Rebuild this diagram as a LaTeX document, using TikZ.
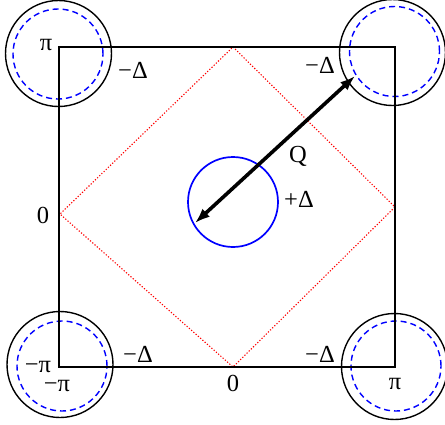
\documentclass[tikz,border=0pt]{standalone}
\usepackage{fontspec}
\setmainfont{Liberation Serif}
\usetikzlibrary{arrows.meta}
\begin{document}
\begin{tikzpicture}[x=1pt,y=-1pt,
  lbl/.style={inner sep=0pt,font=\fontsize{24.5}{24.5}\selectfont},
  outer/.style={circle,draw=black,line width=1.4pt,minimum size=106pt,inner sep=0pt},
  inner/.style={circle,draw=blue,dash pattern=on 6pt off 4pt,line width=1.4pt,minimum size=90pt,inner sep=0pt},
  bz/.style={draw=black,line width=2.8pt},
  dia/.style={draw=red,dash pattern=on 1.2pt off 1.8pt,line width=1.1pt},
  qarrow/.style={{Latex[length=15pt,width=11pt]}-{Latex[length=15pt,width=11pt]},line width=3.6pt}]
\useasboundingbox (0,0) rectangle (445,424);
% corners of the zone
\coordinate (c1) at (59,47);
\coordinate (c2) at (395,47);
\coordinate (c3) at (395,367);
\coordinate (c4) at (59,367);
% diamond vertices
\coordinate (d1) at (233,47);
\coordinate (d2) at (395,207);
\coordinate (d3) at (233,367);
\coordinate (d4) at (60,214);
\draw[dia] (d1) -- (d2) -- (d3) -- (d4) -- cycle;
% pockets
\node[outer] (o1) at (58.5,53.5) {};
\node[inner] (i1) at (58,54) {};
\node[outer] (o2) at (392.5,52.5) {};
\node[inner] (i2) at (394.5,51.5) {};
\node[outer] (o3) at (60,364.5) {};
\node[inner] (i3) at (62,366) {};
\node[outer] (o4) at (394.5,366.5) {};
\node[inner] (i4) at (396,366) {};
\node[circle,draw=blue,line width=1.7pt,minimum size=90pt,inner sep=0pt] (cc) at (233,202) {};
% zone boundary
\draw[bz] (c1) -- (c2) -- (c3) -- (c4) -- cycle;
% Q vector
\coordinate (qa) at (195,223);
\coordinate (qb) at (355,76);
\draw[qarrow] (qa) -- (qb);
% labels
\node[lbl] (l1) at (46,45) {π};
\node[lbl] (l2) at (133,70) {−Δ};
\node[lbl] (l3) at (320,65) {−Δ};
\node[lbl] (l4) at (298,156) {Q};
\node[lbl] (l5) at (299,199) {+Δ};
\node[lbl] (l6) at (43,215) {0};
\node[lbl] (l7) at (38,367) {−π};
\node[lbl] (l8) at (57,386) {−π};
\node[lbl] (l9) at (138,354) {−Δ};
\node[lbl] (l10) at (320,354) {−Δ};
\node[lbl] (l11) at (233,383) {0};
\node[lbl] (l12) at (395,384) {π};
\end{tikzpicture}
\end{document}
